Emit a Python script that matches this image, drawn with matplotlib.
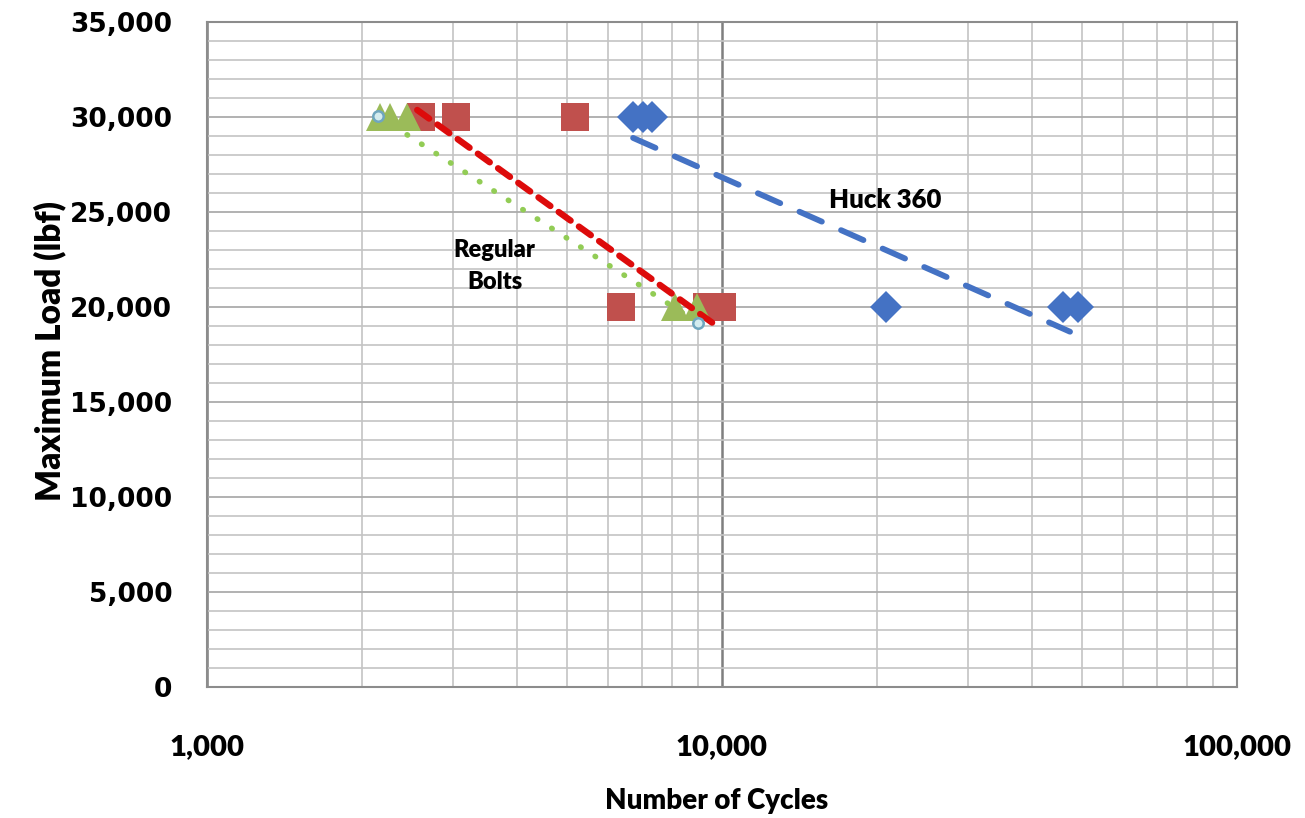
import matplotlib
matplotlib.use("Agg")
import matplotlib.pyplot as plt
from matplotlib.ticker import FuncFormatter, LogLocator, MultipleLocator

# Huck 360 fasteners (blue diamonds)
huck_cycles = [6720, 7020, 7310, 20800, 45900, 49100]
huck_load = [30000, 30000, 30000, 20000, 20000, 20000]

# regular bolts, two sets (red squares, green triangles)
sq_cycles = [2600, 3040, 5180, 6370, 9350, 10000]
sq_load = [30000, 30000, 30000, 20000, 20000, 20000]
tri_cycles = [2170, 2270, 2450, 8100, 8940]
tri_load = [30000, 30000, 30000, 20000, 20000]

# trend lines (end points)
huck_trend_cycles = [6720, 47400]
huck_trend_load = [28900, 18700]
sq_trend_cycles = [2560, 9600]
sq_trend_load = [30370, 19150]
tri_trend_cycles = [2150, 9000]
tri_trend_load = [30050, 19150]

fig = plt.figure(figsize=(13.05, 8.18), dpi=100)
ax = fig.add_axes([0.1586, 0.1601, 0.7893, 0.8130])

ax.set_xscale('log')
ax.set_xlim(1000, 100000)
ax.set_ylim(0, 35000)

# grid
ax.xaxis.set_major_locator(LogLocator(base=10))
ax.xaxis.set_minor_locator(LogLocator(base=10, subs=range(2, 10)))
ax.yaxis.set_major_locator(MultipleLocator(5000))
ax.yaxis.set_minor_locator(MultipleLocator(1000))
ax.grid(which='minor', axis='both', color='#c4c4c4', lw=1.2)
ax.grid(which='major', axis='y', color='#ababab', lw=1.3)
ax.grid(which='major', axis='x', color='#7f7f7f', lw=1.8)
ax.set_axisbelow(True)
for s in ax.spines.values():
    s.set_color('#8c8c8c')
    s.set_linewidth(1.5)

ax.tick_params(which='both', length=0)
ax.tick_params(axis='x', which='major', pad=34)
ax.tick_params(axis='y', which='major', pad=25)
ax.xaxis.set_major_formatter(FuncFormatter(lambda v, p: f'{v:,.0f}'))
ax.xaxis.set_minor_formatter(FuncFormatter(lambda v, p: ''))
ax.yaxis.set_major_formatter(FuncFormatter(lambda v, p: f'{v:,.0f}'))
for lab in ax.get_xticklabels():
    lab.set_fontfamily('Lato')
    lab.set_fontweight('heavy')
    lab.set_fontsize(21)
for lab in ax.get_yticklabels():
    lab.set_fontfamily('DejaVu Sans')
    lab.set_fontweight('bold')
    lab.set_fontsize(19)

ax.set_xlabel('Number of Cycles', family='Lato', fontweight='heavy', fontsize=20)
ax.set_ylabel('Maximum Load (lbf)', family='Lato', fontweight='heavy', fontsize=24)
ax.xaxis.set_label_coords(0.495, -0.152)
ax.yaxis.set_label_coords(-0.137, 0.505)

# trend lines
ax.plot(tri_trend_cycles, tri_trend_load, color='#92cc55', lw=4,
        dashes=(0.1, 3.0), dash_capstyle='round', zorder=2)

# data
ax.plot(sq_cycles, sq_load, 's', color='#c0504d', ms=20, mew=0, zorder=3)
ax.plot(tri_cycles, tri_load, '^', color='#9bbb59', ms=20, mew=0, zorder=4)
ax.plot(huck_cycles, huck_load, 'D', color='#4472c4', ms=16, mew=0, zorder=3)

ax.plot(sq_trend_cycles, sq_trend_load, color='#dd0b0b', lw=4.6,
        dashes=(2.3, 1.6), dash_capstyle='round', zorder=5)
ax.plot(huck_trend_cycles, huck_trend_load, color='#4472c4', lw=4.2,
        dashes=(4.2, 3.6), dash_capstyle='round', zorder=5)

ax.plot(tri_trend_cycles, tri_trend_load, 'o', ms=7.5, mfc='#d4ecef', mec='#6fa6bf',
        mew=1.8, ls='none', zorder=6)

# annotations
ax.text(3620, 22150, 'Regular\nBolts', family='Lato', fontweight='heavy', fontsize=17,
        ha='center', va='center', linespacing=1.55, zorder=7)
ax.text(20730, 25630, 'Huck 360', family='Lato', fontweight='heavy', fontsize=18.5,
        ha='center', va='center', zorder=7)

fig.savefig('out.png', dpi=100)
